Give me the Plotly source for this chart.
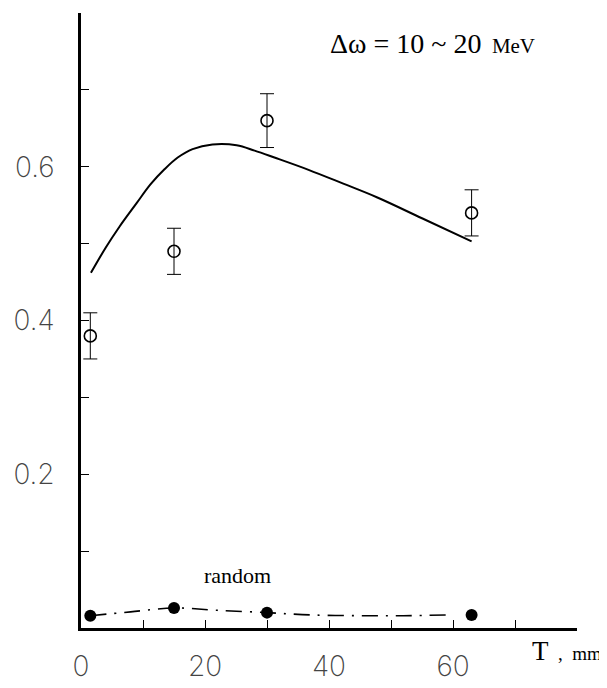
import plotly.graph_objects as go

# Data
exp_T = [1.5, 15, 30, 63]
exp_val = [0.38, 0.49, 0.66, 0.54]
exp_err = [0.03, 0.03, 0.035, 0.03]

curve_T = [1.6, 4, 6.2, 9, 11.2, 13.5, 15.6, 18, 21.2, 25.1, 28, 31.2, 36.7, 42.3, 47.8, 55, 63]
curve_val = [0.462, 0.495, 0.522, 0.553, 0.577, 0.597, 0.612, 0.623, 0.629, 0.628, 0.621, 0.612, 0.596, 0.578, 0.560, 0.533, 0.503]

rand_T = [1.5, 15, 30, 63]
rand_val = [0.016, 0.026, 0.020, 0.017]

rand_line_T = [1.5, 8, 15, 22, 30, 37, 45, 52, 59]
rand_line_val = [0.016, 0.021, 0.026, 0.023, 0.020, 0.017, 0.016, 0.016, 0.017]

y_ticks = [0.1, 0.2, 0.3, 0.4, 0.5, 0.6, 0.7]
y_ticktext = ["", "0.2", "", "0.4", "", "0.6", ""]
x_ticks = [0, 10, 20, 30, 40, 50, 60, 70, 80]
x_ticktext = ["0", "", "20", "", "40", "", "60", "", ""]

fig = go.Figure()

fig.add_trace(go.Scatter(
    x=curve_T, y=curve_val, mode="lines",
    line=dict(color="black", width=2, shape="spline"),
    showlegend=False, hoverinfo="skip"))

fig.add_trace(go.Scatter(
    x=rand_line_T, y=rand_line_val, mode="lines",
    line=dict(color="black", width=1.6, dash="16px,8px,2px,8px", shape="spline"),
    showlegend=False, hoverinfo="skip"))

fig.add_trace(go.Scatter(
    x=exp_T, y=exp_val, mode="markers",
    marker=dict(symbol="circle-open", size=12, color="black", line=dict(width=1.6)),
    error_y=dict(type="data", array=exp_err, visible=True, color="black", thickness=1, width=7),
    showlegend=False))

fig.add_trace(go.Scatter(
    x=rand_T, y=rand_val, mode="markers",
    marker=dict(symbol="circle", size=12, color="black"),
    showlegend=False))

tickfont = dict(family="DejaVu Sans ExtraLight, Inter, DejaVu Sans", size=28,
                color="#444", weight=200)

# page body adds an 8px margin, so the figure is sized to fit the 607x688 window
fig.update_layout(
    width=599, height=680,
    margin=dict(l=65, r=30, t=5, b=45),
    plot_bgcolor="white", paper_bgcolor="white",
    xaxis=dict(range=[0, 80], showgrid=False, zeroline=False,
               showline=True, linecolor="black", linewidth=2.5,
               tickmode="array", tickvals=x_ticks, ticktext=x_ticktext,
               ticks="inside", ticklen=8, tickwidth=1, tickcolor="black",
               tickfont=tickfont, ticklabelstandoff=12),
    yaxis=dict(range=[0, 0.8], showgrid=False, zeroline=False,
               showline=True, linecolor="black", linewidth=2.5,
               tickmode="array", tickvals=y_ticks, ticktext=y_ticktext,
               ticks="inside", ticklen=8, tickwidth=1, tickcolor="black",
               tickfont=tickfont, ticklabelstandoff=18),
    annotations=[
        dict(x=0.92, y=0.95, xref="paper", yref="paper", showarrow=False,
             xanchor="right", yanchor="middle",
             text="Δω = 10 ~ 20<span style='font-size:21px'>&nbsp;&nbsp;MeV</span>",
             font=dict(family="Liberation Serif", size=28, color="black")),
        dict(x=25.3, y=0.068, xref="x", yref="y", showarrow=False,
             text="random", xanchor="center", yanchor="middle",
             font=dict(family="Liberation Serif", size=22, color="black")),
        dict(x=1.054, y=-0.038, xref="paper", yref="paper", showarrow=False,
             xanchor="right", yanchor="middle",
             text="T<span style='font-size:19px'>&nbsp; ,&nbsp; mm</span>",
             font=dict(family="Liberation Serif", size=27, color="black")),
    ],
)

fig.write_html("out.html")
